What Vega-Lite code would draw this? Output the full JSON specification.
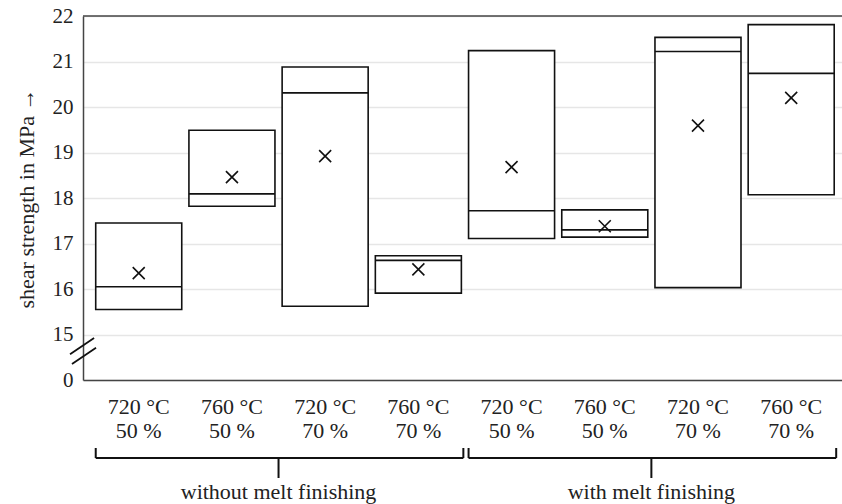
{
  "$schema": "https://vega.github.io/schema/vega-lite/v6.json",
  "autosize": {"type": "none"},
  "padding": {"left": 83, "top": 16, "right": 0, "bottom": 124},
  "width": 759,
  "height": 364,
  "background": "white",
  "config": {
    "font": "Liberation Serif",
    "view": {"stroke": null},
    "axis": {"labelFont": "Liberation Serif", "titleFont": "Liberation Serif", "labelColor": "#222", "titleColor": "#222"},
    "text": {"font": "Liberation Serif"}
  },
  "datasets": {
    "boxes": [
      {"cat": "720 °C|50 %|1", "group": "without melt finishing", "min": 15.55, "median": 16.05, "max": 17.45, "mean": 16.35},
      {"cat": "760 °C|50 %|2", "group": "without melt finishing", "min": 17.82, "median": 18.09, "max": 19.49, "mean": 18.46},
      {"cat": "720 °C|70 %|3", "group": "without melt finishing", "min": 15.62, "median": 20.31, "max": 20.88, "mean": 18.92},
      {"cat": "760 °C|70 %|4", "group": "without melt finishing", "min": 15.91, "median": 16.63, "max": 16.73, "mean": 16.43},
      {"cat": "720 °C|50 %|5", "group": "with melt finishing", "min": 17.11, "median": 17.72, "max": 21.24, "mean": 18.68},
      {"cat": "760 °C|50 %|6", "group": "with melt finishing", "min": 17.14, "median": 17.30, "max": 17.74, "mean": 17.38},
      {"cat": "720 °C|70 %|7", "group": "with melt finishing", "min": 16.03, "median": 21.22, "max": 21.53, "mean": 19.59},
      {"cat": "760 °C|70 %|8", "group": "with melt finishing", "min": 18.07, "median": 20.74, "max": 21.81, "mean": 20.20}
    ],
    "groups": [
      {"group": "without melt finishing", "first": "720 °C|50 %|1", "mid": "760 °C|50 %|2", "last": "760 °C|70 %|4"},
      {"group": "with melt finishing", "first": "720 °C|50 %|5", "mid": "760 °C|50 %|6", "last": "760 °C|70 %|8"}
    ]
  },
  "layer": [
    {
      "data": {"name": "boxes"},
      "mark": {"type": "bar", "fill": "white", "stroke": "#111", "strokeWidth": 1.6},
      "encoding": {
        "x": {
          "field": "cat", "type": "nominal", "sort": null,
          "scale": {"paddingInner": 0.077, "paddingOuter": 0.11, "align": 0.62},
          "axis": {
            "title": null, "ticks": false, "labelAngle": 0, "labelPadding": 16,
            "labelFontSize": 22, "labelLineHeight": 24, "labelBaseline": "top",
            "labelExpr": "slice(split(datum.value, '|'), 0, 2)",
            "domainColor": "#444", "domainWidth": 1.5, "grid": false
          }
        },
        "y": {
          "field": "min", "type": "quantitative",
          "scale": {"domain": [14, 22], "nice": false, "zero": false},
          "axis": {
            "title": "shear strength in MPa →", "titleFontSize": 22, "titleFontWeight": "normal", "titlePadding": 14,
            "values": [14, 15, 16, 17, 18, 19, 20, 21, 22],
            "labelExpr": "datum.value == 14 ? '0' : datum.label",
            "labelFontSize": 21, "labelPadding": 10, "ticks": false,
            "grid": true, "gridColor": "#e6e6e6", "gridWidth": 1.5,
            "domainColor": "#444", "domainWidth": 1.5
          }
        },
        "y2": {"field": "max"}
      }
    },
    {
      "data": {"name": "boxes"},
      "mark": {"type": "bar", "fill": null, "stroke": "#111", "strokeWidth": 1.6},
      "encoding": {
        "x": {"field": "cat", "type": "nominal", "sort": null},
        "y": {"field": "median", "type": "quantitative"},
        "y2": {"field": "median"}
      }
    },
    {
      "data": {"name": "boxes"},
      "mark": {"type": "point", "shape": "M-1,-1L1,1M-1,1L1,-1", "filled": false, "stroke": "#111", "strokeWidth": 1.6, "size": 144, "opacity": 1},
      "encoding": {
        "x": {"field": "cat", "type": "nominal", "sort": null},
        "y": {"field": "mean", "type": "quantitative"}
      }
    },
    {
      "data": {"values": [{"v": 22}]},
      "mark": {"type": "rule", "stroke": "#444", "strokeWidth": 1.5},
      "encoding": {"y": {"field": "v", "type": "quantitative"}}
    },
    {
      "data": {"values": [{"cat": "720 °C|50 %|1"}]},
      "mark": {"type": "point", "shape": "M-1,0.25L0.85,-1M-0.85,1L1,-0.25", "filled": false, "stroke": "#111", "strokeWidth": 1.8, "size": 676, "opacity": 1, "xOffset": -55.7, "yOffset": -29},
      "encoding": {
        "x": {"field": "cat", "type": "nominal", "sort": null},
        "y": {"datum": 14}
      }
    },
    {
      "data": {"name": "groups"},
      "mark": {"type": "rule", "stroke": "#111", "strokeWidth": 2, "xOffset": -43, "x2Offset": 45, "yOffset": 78},
      "encoding": {
        "x": {"field": "first", "type": "nominal", "sort": null},
        "x2": {"field": "last"},
        "y": {"datum": 14}
      }
    },
    {
      "data": {"name": "groups"},
      "mark": {"type": "rule", "stroke": "#111", "strokeWidth": 2, "xOffset": -43, "yOffset": 78, "y2Offset": 68},
      "encoding": {
        "x": {"field": "first", "type": "nominal", "sort": null},
        "y": {"datum": 14},
        "y2": {"datum": 14}
      }
    },
    {
      "data": {"name": "groups"},
      "mark": {"type": "rule", "stroke": "#111", "strokeWidth": 2, "xOffset": 45, "yOffset": 78, "y2Offset": 68},
      "encoding": {
        "x": {"field": "last", "type": "nominal", "sort": null},
        "y": {"datum": 14},
        "y2": {"datum": 14}
      }
    },
    {
      "data": {"name": "groups"},
      "mark": {"type": "rule", "stroke": "#111", "strokeWidth": 2, "xOffset": 46.6, "yOffset": 78, "y2Offset": 98},
      "encoding": {
        "x": {"field": "mid", "type": "nominal", "sort": null},
        "y": {"datum": 14},
        "y2": {"datum": 14}
      }
    },
    {
      "data": {"name": "groups"},
      "mark": {"type": "text", "fontSize": 22, "color": "#222", "baseline": "middle", "align": "center", "xOffset": 46.6, "yOffset": 112},
      "encoding": {
        "x": {"field": "mid", "type": "nominal", "sort": null},
        "y": {"datum": 14},
        "text": {"field": "group"}
      }
    }
  ]
}
